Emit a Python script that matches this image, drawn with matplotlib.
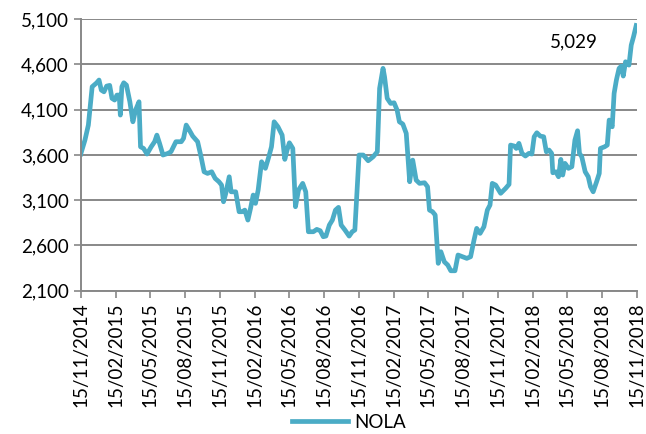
import numpy as np
import pandas as pd
import matplotlib
matplotlib.use("Agg")
import matplotlib.pyplot as plt
import matplotlib.dates as mdates
from matplotlib.ticker import FuncFormatter

plt.rcParams['font.family'] = ['Lato', 'DejaVu Sans']

# NOLA index
dates = pd.to_datetime([
    "2014-11-15", "2014-11-26", "2014-12-05", "2014-12-15", "2014-12-27", "2015-01-02",
    "2015-01-08", "2015-01-15", "2015-01-22", "2015-01-30", "2015-02-05", "2015-02-12",
    "2015-02-18", "2015-02-24", "2015-02-27", "2015-03-03", "2015-03-08", "2015-03-15",
    "2015-03-24", "2015-04-01", "2015-04-08", "2015-04-17", "2015-04-21", "2015-04-29",
    "2015-05-08", "2015-05-19", "2015-05-28", "2015-06-03", "2015-06-10", "2015-06-19",
    "2015-07-02", "2015-07-10", "2015-07-23", "2015-08-06", "2015-08-12", "2015-08-19",
    "2015-08-27", "2015-09-05", "2015-09-18", "2015-09-27", "2015-10-05", "2015-10-14",
    "2015-10-25", "2015-11-03", "2015-11-13", "2015-11-20", "2015-11-25", "2015-12-01",
    "2015-12-10", "2015-12-15", "2015-12-27", "2016-01-05", "2016-01-13", "2016-01-20",
    "2016-01-28", "2016-02-04", "2016-02-11", "2016-02-17", "2016-02-24", "2016-03-04",
    "2016-03-14", "2016-03-23", "2016-03-30", "2016-04-06", "2016-04-16", "2016-04-27",
    "2016-05-04", "2016-05-10", "2016-05-16", "2016-05-25", "2016-06-01", "2016-06-09",
    "2016-06-20", "2016-06-28", "2016-07-05", "2016-07-18", "2016-07-27", "2016-08-05",
    "2016-08-13", "2016-08-20", "2016-08-29", "2016-09-06", "2016-09-14", "2016-09-22",
    "2016-09-29", "2016-10-09", "2016-10-20", "2016-10-28", "2016-11-04", "2016-11-15",
    "2016-11-26", "2016-12-09", "2016-12-22", "2017-01-02", "2017-01-08", "2017-01-17",
    "2017-01-21", "2017-01-28", "2017-02-06", "2017-02-15", "2017-02-23", "2017-03-01",
    "2017-03-10", "2017-03-19", "2017-03-28", "2017-04-05", "2017-04-14", "2017-04-23",
    "2017-05-06", "2017-05-14", "2017-05-19", "2017-05-27", "2017-06-03", "2017-06-11",
    "2017-06-18", "2017-06-27", "2017-07-06", "2017-07-14", "2017-07-25", "2017-08-02",
    "2017-08-14", "2017-08-25", "2017-09-04", "2017-09-13", "2017-09-20", "2017-09-29",
    "2017-10-09", "2017-10-18", "2017-10-25", "2017-10-31", "2017-11-09", "2017-11-22",
    "2017-12-05", "2017-12-14", "2017-12-18", "2017-12-28", "2018-01-02", "2018-01-09",
    "2018-01-17", "2018-01-26", "2018-02-04", "2018-02-12", "2018-02-18", "2018-02-25",
    "2018-03-06", "2018-03-15", "2018-03-22", "2018-03-29", "2018-04-05", "2018-04-08",
    "2018-04-16", "2018-04-23", "2018-04-29", "2018-05-04", "2018-05-10", "2018-05-19",
    "2018-05-28", "2018-06-05", "2018-06-12", "2018-06-17", "2018-06-23", "2018-07-02",
    "2018-07-10", "2018-07-16", "2018-07-23", "2018-08-01", "2018-08-08", "2018-08-11",
    "2018-08-22", "2018-08-29", "2018-09-03", "2018-09-11", "2018-09-16", "2018-09-22",
    "2018-09-29", "2018-10-05", "2018-10-10", "2018-10-16", "2018-10-25", "2018-10-31",
    "2018-11-06", "2018-11-13",
])
nola = [
    3610, 3764, 3930, 4353, 4397, 4427,
    4316, 4297, 4360, 4368, 4225, 4206,
    4261, 4261, 4040, 4353, 4397, 4371,
    4187, 3966, 4095, 4187, 3690, 3672,
    3610, 3690, 3746, 3819, 3728, 3599,
    3617, 3635, 3746, 3746, 3783, 3930,
    3875, 3808, 3746, 3580, 3414, 3396,
    3414, 3341, 3304, 3267, 3083, 3176,
    3359, 3193, 3193, 2973, 2973, 2991,
    2881, 3010, 3157, 3065, 3212, 3525,
    3452, 3580, 3690, 3966, 3911, 3819,
    3551, 3654, 3734, 3672, 3028, 3212,
    3286, 3193, 2752, 2752, 2778, 2763,
    2697, 2704, 2826, 2881, 2991, 3021,
    2826, 2771, 2704, 2752, 2771, 3599,
    3599, 3536, 3580, 3635, 4335, 4556,
    4463, 4225, 4169, 4176, 4095, 3966,
    3941, 3838, 3304, 3543, 3322, 3286,
    3293, 3249, 2991, 2973, 2937, 2403,
    2531, 2420, 2384, 2321, 2321, 2495,
    2476, 2458, 2476, 2660, 2789, 2734,
    2807, 2991, 3047, 3286, 3267, 3176,
    3231, 3275, 3709, 3698, 3672, 3728,
    3617, 3588, 3617, 3610, 3801, 3845,
    3808, 3801, 3635, 3654, 3617, 3403,
    3414, 3359, 3551, 3378, 3507, 3452,
    3470, 3764, 3867, 3617, 3580, 3414,
    3359, 3249, 3193, 3304, 3396, 3672,
    3690, 3709, 3985, 3911, 4280, 4427,
    4556, 4581, 4471, 4629, 4592, 4813,
    4905, 5029,
]

y_ticks = [2100, 2600, 3100, 3600, 4100, 4600, 5100]
x_ticks = pd.date_range("2014-11-01", "2018-11-01", freq="3MS") + pd.Timedelta(days=14)

line_color = '#4BACC6'
grid_color = '#888888'

fig = plt.figure(figsize=(6.46, 4.34), dpi=100)
ax = fig.add_axes([0.125, 0.330, 0.861, 0.626])

ax.plot(dates, nola, color=line_color, linewidth=3.4, label='NOLA', solid_joinstyle='round')

ax.set_ylim(2100, 5100)
ax.set_yticks(y_ticks)
ax.yaxis.set_major_formatter(FuncFormatter(lambda v, p: f"{v:,.0f}"))
ax.set_xlim(pd.Timestamp("2014-11-15"), pd.Timestamp("2018-11-15"))
ax.set_xticks(x_ticks)
ax.xaxis.set_major_formatter(mdates.DateFormatter('%d/%m/%Y'))
plt.setp(ax.get_xticklabels(), rotation=90)

ax.grid(axis='y', color=grid_color, linewidth=1.4)
ax.set_axisbelow(True)
for side in ['top', 'right']:
    ax.spines[side].set_visible(False)
for side in ['left', 'bottom']:
    ax.spines[side].set_color(grid_color)
    ax.spines[side].set_linewidth(1.4)
ax.tick_params(axis='both', colors=grid_color, length=5, width=1.2, labelsize=13.5,
               labelcolor='black')

ax.annotate(f"{nola[-1]:,}", xy=(dates[-1], nola[-1]), xytext=(-45, -12),
            textcoords='offset points', ha='center', va='center', fontsize=13.5)

fig.legend(loc='lower center', bbox_to_anchor=(0.54, -0.032), frameon=False, fontsize=13.5,
           handlelength=3.0, handletextpad=0.3)

fig.savefig('out.png', dpi=100)
